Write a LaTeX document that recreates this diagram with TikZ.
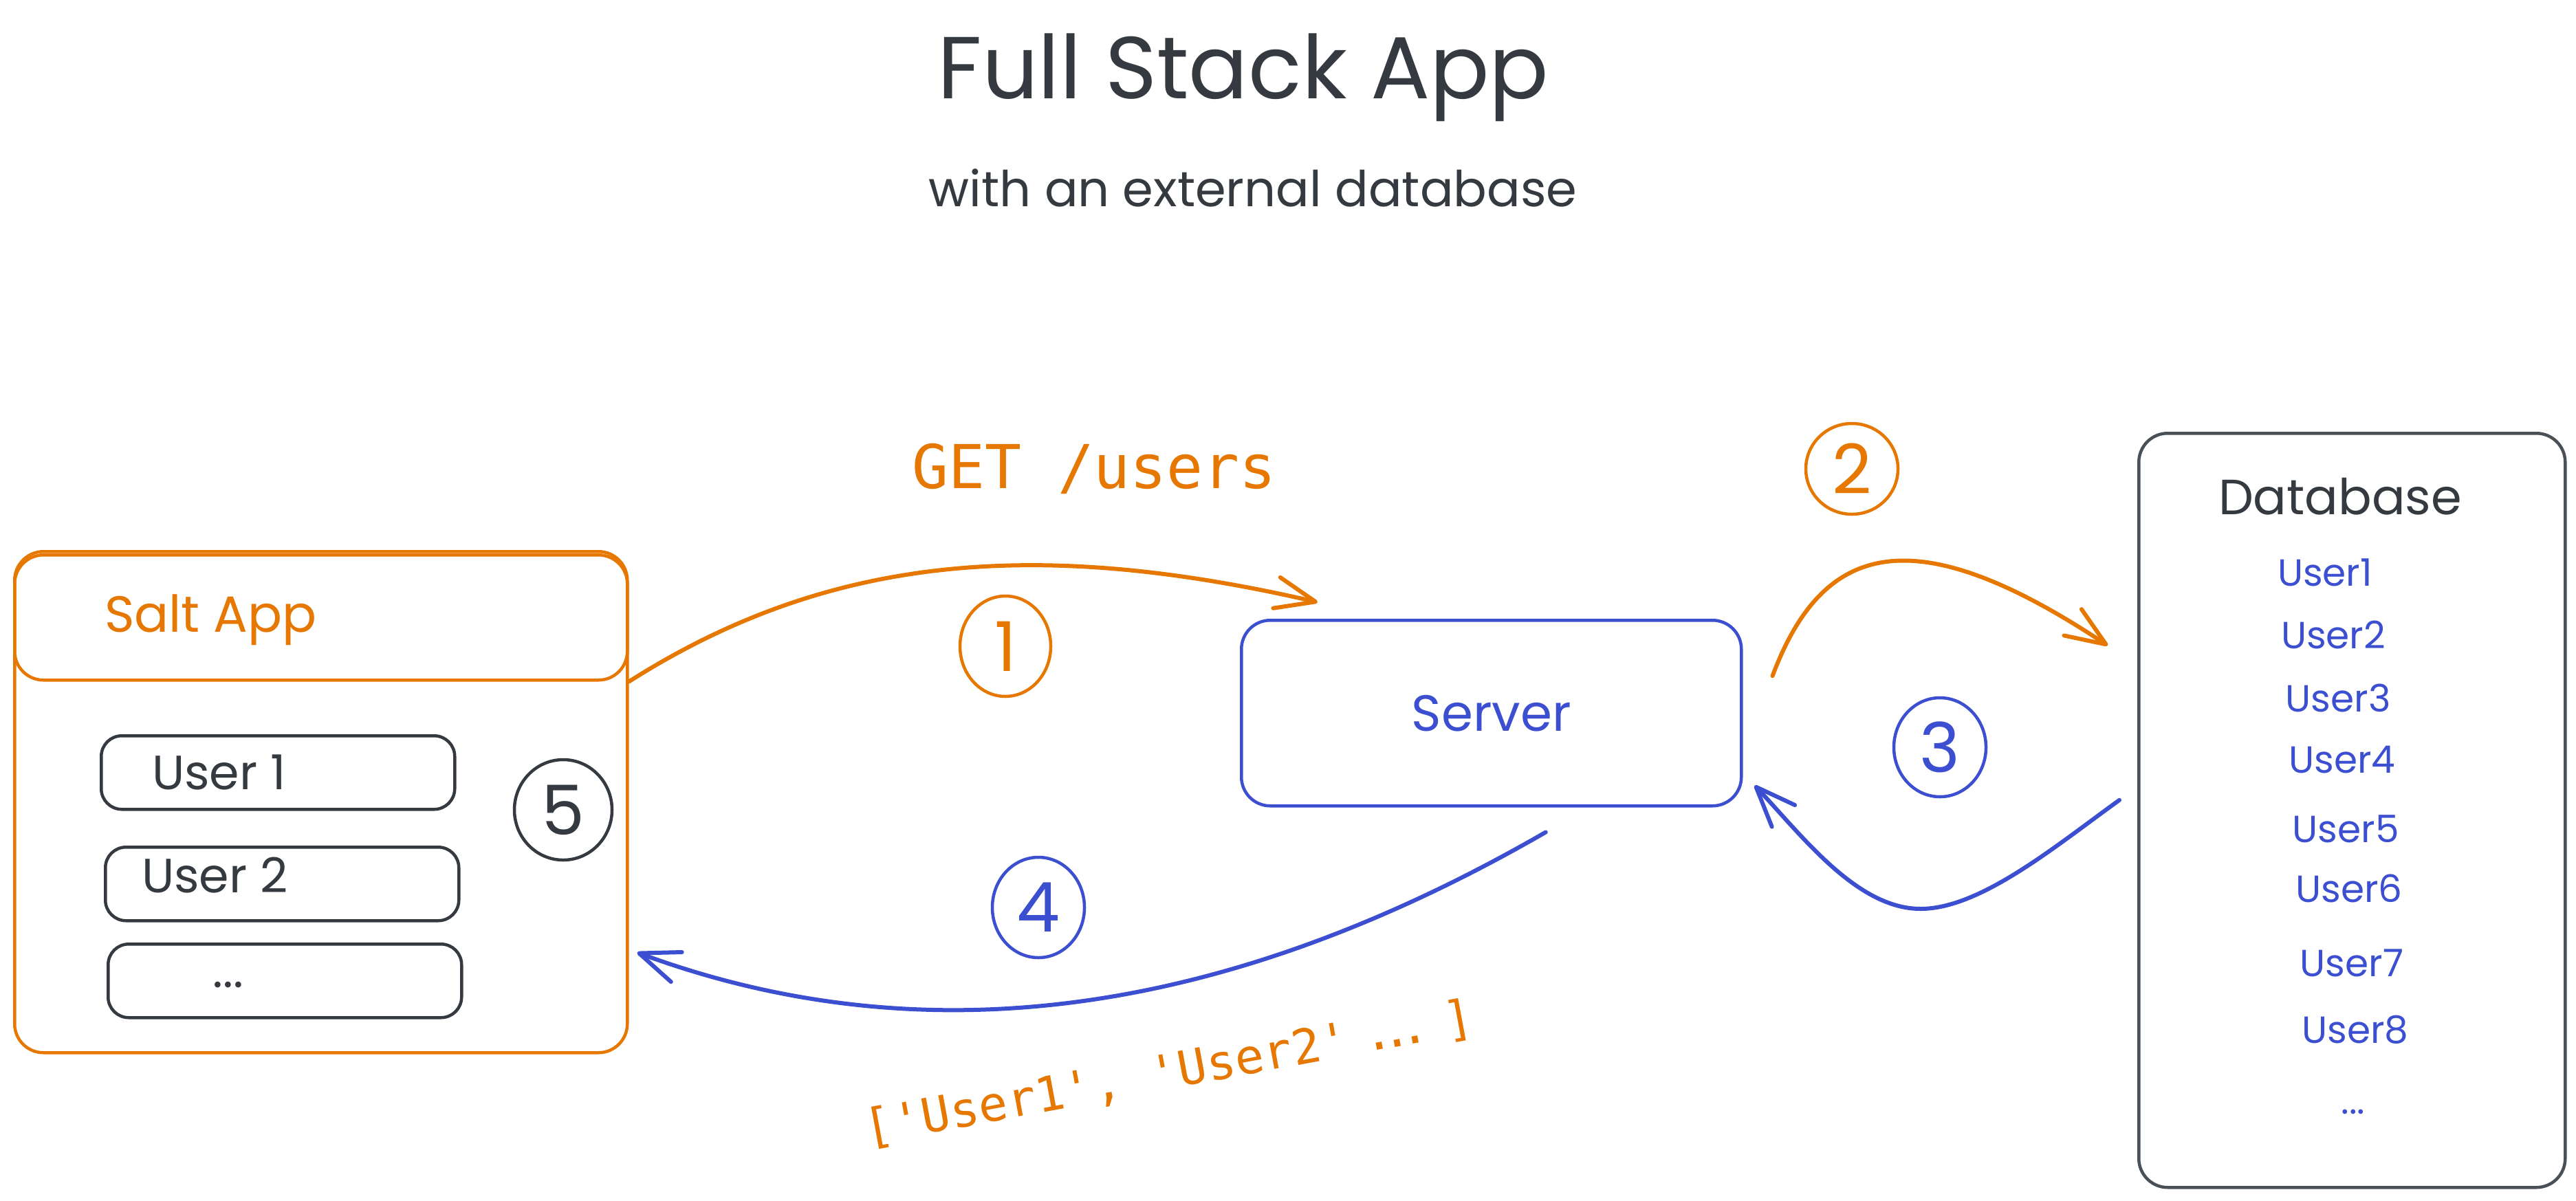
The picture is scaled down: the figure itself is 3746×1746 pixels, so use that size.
\documentclass[tikz,border=0pt]{standalone}
\usepackage{fontspec}
\setmainfont{Poppins}
\newfontfamily\codefont{DejaVu Sans Mono}
\usetikzlibrary{arrows.meta,shapes.geometric}
\definecolor{ink}{HTML}{343A40}
\definecolor{inkgray}{HTML}{495057}
\definecolor{orng}{HTML}{E67700}
\definecolor{indg}{HTML}{3B4FD0}
\newcommand\fsz[1]{\fontsize{#1pt}{#1pt}\selectfont}

\begin{document}
\begin{tikzpicture}[x=1pt,y=-1pt,
  box/.style={draw, line width=4.5pt, rounded corners=42pt, inner sep=0pt, anchor=north west},
  itembox/.style={draw=ink, line width=4.5pt, rounded corners=30pt, inner sep=0pt, anchor=north west,
    minimum width=514pt, minimum height=107pt},
  lbl/.style={inner sep=0pt, anchor=base},
  badge/.style={ellipse, draw, line width=4.5pt, inner sep=0pt, font=\fsz{100}},
  flow/.style={line width=6pt, line cap=round, line join=round,
    -{Straight Barb[length=58pt, width=46pt, line cap=round, line join=round]}},
  dbuser/.style={inner sep=0pt, anchor=base, text=indg, font=\fsz{55}},
]
\useasboundingbox (0,0) rectangle (3746,1746);

% heading
\node[lbl, text=ink, font=\fsz{128}] (title) at (1808,143) {Full Stack App};
\node[lbl, text=ink, font=\fsz{72}] (subtitle) at (1822,300) {with an external database};

% client application
\node[box, draw=orng, minimum width=891pt, minimum height=729pt] (salt) at (19,800) {};
\node[box, draw=orng, minimum width=891pt, minimum height=182pt] (head) at (19,805) {};
\node[lbl, anchor=base west, text=orng, font=\fsz{74}] (saltname) at (152,919) {Salt App};
\node[itembox] (item1) at (145,1068) {};
\node[itembox] (item2) at (151,1230) {};
\node[itembox] (item3) at (155,1371) {};
\node[lbl, anchor=base west, text=ink, font=\fsz{70}] (item1txt) at (221,1148) {User 1};
\node[lbl, anchor=base west, text=ink, font=\fsz{70}] (item2txt) at (206,1298) {User 2};
\node[lbl, text=ink, font=\fsz{70}] (item3txt) at (332,1436) {...};
\node[badge, draw=ink, text=ink, minimum width=142pt, minimum height=146pt] (n5) at (819,1178) {5};

% server
\node[box, draw=indg, text=indg, font=\fsz{74}, minimum width=727pt, minimum height=270pt] (server) at (1803,900) {Server};

% database
\node[box, draw=inkgray, minimum width=620pt, minimum height=1097pt] (db) at (3108,628) {};
\node[lbl, text=ink, font=\fsz{72}] (dbname) at (3403,748) {Database};
\node[dbuser] (u1) at (3381,852) {User1};
\node[dbuser] (u2) at (3393,943) {User2};
\node[dbuser] (u3) at (3400,1035) {User3};
\node[dbuser] (u4) at (3406,1124) {User4};
\node[dbuser] (u5) at (3411,1225) {User5};
\node[dbuser] (u6) at (3416,1312) {User6};
\node[dbuser] (u7) at (3420,1420) {User7};
\node[dbuser] (u8) at (3425,1517) {User8};
\node[dbuser] (u9) at (3422,1620) {...};

% request / response labels
\node[lbl, text=orng, font={\codefont\fsz{88}}] (get) at (1591,710) {GET /users};
\node[inner sep=0pt, text=orng, font={\codefont\fsz{70}}, rotate=10.5] (resp) at (1700,1562)
  {['User1', 'User2' \kern-21pt.\kern-16pt.\kern-16pt. \kern-31pt]};

% step badges
\node[badge, draw=orng, text=orng, minimum width=132pt, minimum height=146pt] (n1) at (1462,940) {1};
\node[badge, draw=orng, text=orng, minimum width=134pt, minimum height=132pt] (n2) at (2693,682) {2};
\node[badge, draw=indg, text=indg, minimum width=134pt, minimum height=144pt] (n3) at (2821,1087) {3};
\node[badge, draw=indg, text=indg, minimum width=134pt, minimum height=146pt] (n4) at (1510,1320) {4};

% connectors
\draw[flow, draw=orng] (salt.east |- head.south)
  .. controls (1200,810) and (1500,780) .. ([shift={(113,-24)}]server.north west);
\draw[flow, draw=orng] ([shift={(43,-54)}]server.east)
  .. controls (2650,790) and (2780,750) .. ([shift={(-43,311)}]db.north west);
\draw[flow, draw=indg] ([shift={(-26,-15)}]db.west)
  .. controls (2990,1230) and (2880,1322) .. (2793,1322)
  .. controls (2700,1322) and (2620,1215) .. ([shift={(17,-32)}]server.south east);
\draw[flow, draw=indg] ([shift={(79,36)}]server.south)
  .. controls (1850,1440) and (1400,1560) .. ([shift={(12,-148)}]salt.south east);
\end{tikzpicture}
\end{document}
